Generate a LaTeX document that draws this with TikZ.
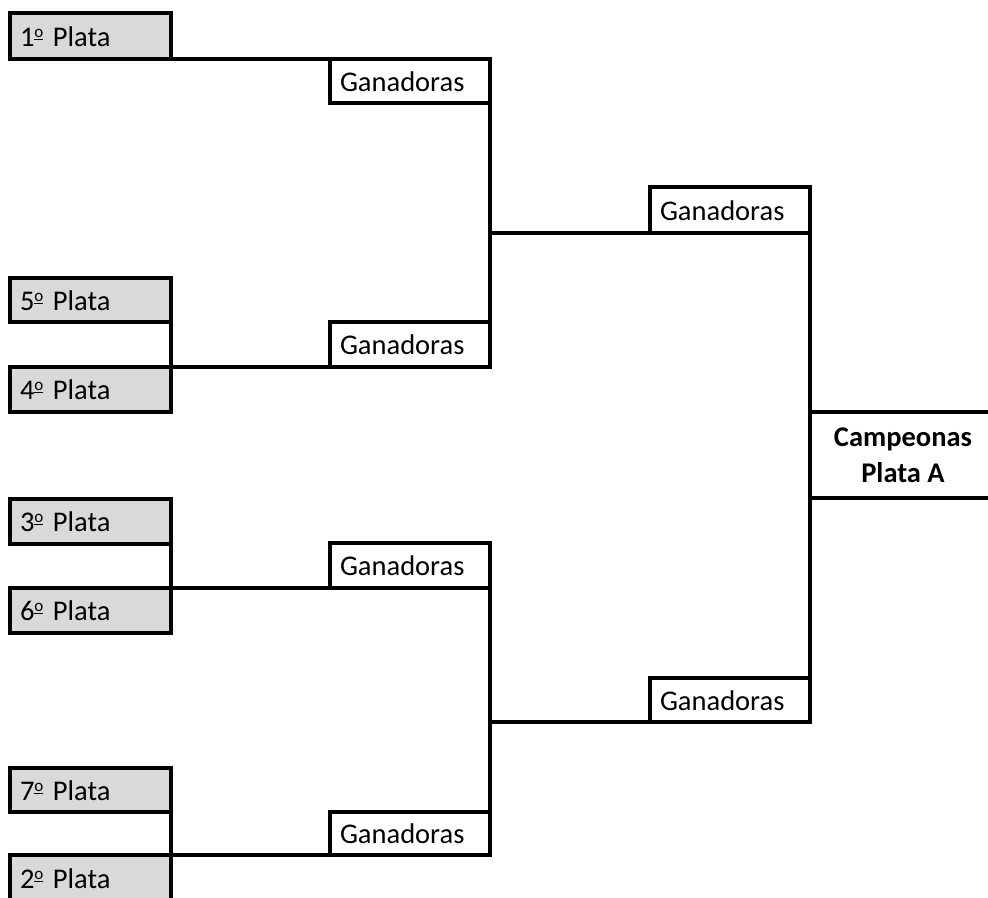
\documentclass[tikz,border=0pt]{standalone}
\usepackage{fontspec}
\setmainfont{Carlito}
\usepackage{tikz}
\usetikzlibrary{positioning}
\definecolor{seedgray}{RGB}{217,217,217}
\newcommand{\seedcolor}{seedgray}
\newcommand{\wincolor}{white}
\newcommand{\ordo}{\raisebox{0.3em}{\fontsize{17}{17}\selectfont\underline{o}}}

\begin{document}
\begin{tikzpicture}[
      % GLOBAL CFG
      x=1pt, y=-1pt,
      font=\fontsize{28.5}{34}\selectfont,
      line width=3.2pt,
      % Styles
      seed/.style={% For the seeded teams
        rectangle,
        draw,
        fill=\seedcolor,
        anchor=north west,
        outer sep=0pt,
        inner xsep=10pt,
        inner ysep=0pt,
        text width=141pt,
        align=left,
        text height=20pt,
        text depth=0pt
      },
      winner/.style={% For the winners of a match
        rectangle,
        draw,
        fill=\wincolor,
        anchor=north west,
        outer sep=0pt,
        inner xsep=10pt,
        inner ysep=0pt,
        text width=140pt,
        align=left,
        text height=20pt,
        text depth=0pt
      },
      champ/.style={% For the final result
        font=\fontsize{28.5}{36}\selectfont\bfseries,
        align=center,
        inner sep=0pt
      },
      bracket/.style={% Lines of the bracket
        line cap=rect
      }
      ]
      \useasboundingbox (0,0) rectangle (988,897);

      % First round, top half
      \node [seed, minimum height=46pt] (p1) at (10,13) {1\ordo{} Plata};
      \node [seed, minimum height=44pt] (p5) at (10,278) {5\ordo{} Plata};
      \node [seed, minimum height=45pt] (p4) at (10,367) {4\ordo{} Plata};

      % First round, bottom half
      \node [seed, minimum height=45pt] (p3) at (10,499) {3\ordo{} Plata};
      \node [seed, minimum height=45pt] (p6) at (10,588) {6\ordo{} Plata};
      \node [seed, minimum height=44pt] (p7) at (10,768) {7\ordo{} Plata};
      \node [seed, minimum height=46pt] (p2) at (10,855) {2\ordo{} Plata};

      % Winners of the first round
      \node [winner, minimum height=44pt] (g1) at (330,59) {Ganadoras};
      \node [winner, minimum height=45pt] (g2) at (330,322) {Ganadoras};
      \node [winner, minimum height=45pt] (g5) at (330,543) {Ganadoras};
      \node [winner, minimum height=43pt] (g6) at (330,812) {Ganadoras};

      % Winners of the semifinals
      \node [winner, minimum height=46pt] (g3) at (650,187) {Ganadoras};
      \node [winner, minimum height=44pt] (g4) at (650,678) {Ganadoras};

      % Final
      \node [champ] (champ) at (903,455) {Campeonas\\Plata A};
      \coordinate (edge) at (996,455);

      % Draw the bracket:
      \draw [bracket] (p1.south east) -- (g1.north west);
      \draw [bracket] (g1.north east) -- (g2.south east);
      \draw [bracket] (p5.south east) -- (p4.north east) -- (g2.south west);

      \draw [bracket] (p3.south east) -- (p6.north east) -- (g5.south west);
      \draw [bracket] (g5.north east) -- (g6.south east);
      \draw [bracket] (p7.south east) -- (p2.north east) -- (g6.south west);

      \draw [bracket] (g1.east |- g3.south) -- (g3.south west);
      \draw [bracket] (g5.east |- g4.south) -- (g4.south west);
      \draw [bracket] (g3.south east) -- (g4.south east);

      \draw [bracket] (g3.east |- 0,412) -- (edge |- 0,412);
      \draw [bracket] (g3.east |- 0,498) -- (edge |- 0,498);
    \end{tikzpicture}
\end{document}
